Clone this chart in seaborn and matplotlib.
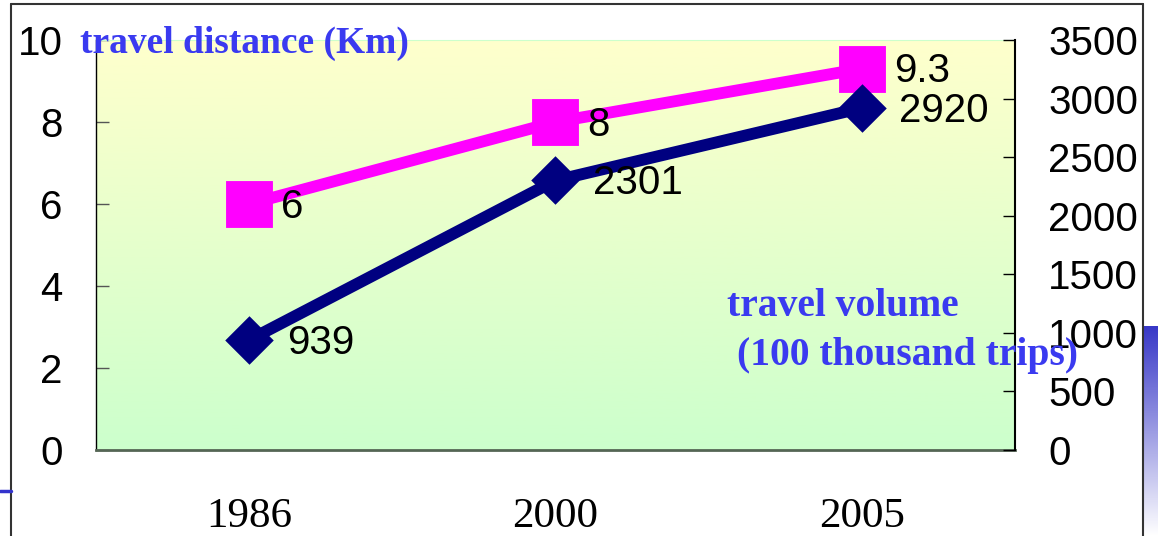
import numpy as np
import pandas as pd
import matplotlib
matplotlib.use('Agg')
import matplotlib.pyplot as plt
import seaborn as sns

years = ['1986', '2000', '2005']
distance = [6, 8, 9.3]          # travel distance (Km)
volume = [939, 2301, 2920]      # travel volume (100 thousand trips)

sns.set_style('white')
plt.rcParams['font.family'] = ['Liberation Sans', 'DejaVu Sans']
plt.rcParams['text.color'] = 'black'
plt.rcParams['xtick.color'] = 'black'
plt.rcParams['ytick.color'] = 'black'
plt.rcParams['axes.labelcolor'] = 'black'

df = pd.DataFrame({'year': years, 'distance': distance, 'volume': volume})

W, H = 1158, 536
fig = plt.figure(figsize=(W / 100, H / 100), dpi=100)
ax = fig.add_axes([96 / W, 1 - 450 / H, 919 / W, 410 / H])

# yellow -> green background of the plot area
grad = np.linspace(0, 1, 256).reshape(-1, 1)
top = np.array([1.0, 1.0, 0.80])
bot = np.array([0.80, 1.0, 0.80])
img = top + (bot - top) * grad[:, :, None]
ax.imshow(img, extent=[0, 1, 0, 1], transform=ax.transAxes, aspect='auto', zorder=0)

sns.pointplot(data=df, x='year', y='distance', ax=ax, color='#FF00FF',
              marker='s', markersize=28, linewidth=8.5, zorder=3)
ax2 = ax.twinx()
sns.pointplot(data=df, x='year', y='volume', ax=ax2, color='#000080',
              marker='D', markersize=18, linewidth=8.5, zorder=3)

for i, v in enumerate(distance):
    ax.annotate(f'{v:g}', (i, v), xytext=(23, -2), textcoords='offset points',
                ha='left', va='center', fontsize=29, color='black')
for i, v in enumerate(volume):
    ax2.annotate(f'{v}', (i, v), xytext=(27, -2), textcoords='offset points',
                 ha='left', va='center', fontsize=29, color='black')

ax.set_xlim(-0.5, 2.5)
ax.set_ylim(0, 10)
ax2.set_ylim(0, 3500)
ax.set_yticks(range(0, 11, 2))
ax2.set_yticks(range(0, 3501, 500))
ax.set_xticks(range(len(years)))
ax.set_xticklabels(years, fontfamily='Liberation Serif', fontsize=31)
ax.set_xticks([-0.5, 0.5, 1.5, 2.5], minor=True)
ax.set_xlabel('')
ax.set_ylabel('')
ax2.set_ylabel('')

ax.tick_params(axis='x', which='major', length=0, pad=34)
ax.tick_params(axis='x', which='minor', direction='in', length=10, width=1, color='black')
ax.tick_params(axis='y', direction='in', length=9, width=1, color='#555555',
               labelsize=29, pad=24, left=True)
ax2.tick_params(axis='y', direction='in', length=9, width=1, color='black',
                labelsize=29, pad=24, right=True)

for a in (ax, ax2):
    a.grid(False)
    for s in a.spines.values():
        s.set_visible(False)
ax.spines['left'].set_visible(True)
ax.spines['left'].set_color('black')
ax.spines['left'].set_linewidth(1)
ax.spines['bottom'].set_visible(True)
ax.spines['bottom'].set_color('#556655')
ax.spines['bottom'].set_linewidth(2)
ax.spines['top'].set_visible(True)
ax.spines['top'].set_color('#CCFFCC')
ax2.spines['right'].set_visible(True)
ax2.spines['right'].set_color('black')
ax2.spines['right'].set_linewidth(1.5)

blue = '#3a3af0'
fig.text(80 / W, 1 - 43 / H, 'travel distance (Km)', color=blue, fontsize=27,
         fontweight='bold', fontfamily='Liberation Serif', ha='left', va='center')
fig.text(843 / W, 1 - 307 / H, 'travel volume', color=blue, fontsize=28.5,
         fontweight='bold', fontfamily='Liberation Serif', ha='center', va='center')
fig.text(737 / W, 1 - 356 / H, '(100 thousand trips)', color=blue, fontsize=28.5,
         fontweight='bold', fontfamily='Liberation Serif', ha='left', va='center')

# slide frame
fig.add_artist(plt.Line2D([11 / W, 11 / W], [0, 1 - 4 / H], color='#333333', lw=1.5))
fig.add_artist(plt.Line2D([11 / W, 1143 / W], [1 - 4 / H, 1 - 4 / H], color='#333333', lw=1.5))
fig.add_artist(plt.Line2D([1143 / W, 1143 / W], [0, 1 - 4 / H], color='#333333', lw=1.5))
fig.add_artist(plt.Line2D([0, 11 / W], [1 - 491 / H, 1 - 491 / H], color='#3333cc', lw=2.5))

deco = fig.add_axes([1144 / W, 0, 14 / W, 210 / H])
dg = np.linspace(0, 1, 128).reshape(-1, 1)
dimg = np.array([0.22, 0.22, 0.78]) + (np.array([1.0, 1.0, 1.0]) - np.array([0.22, 0.22, 0.78])) * dg[:, :, None]
deco.imshow(dimg, aspect='auto', extent=[0, 1, 0, 1])
deco.axis('off')

fig.savefig('out.png', dpi=100)
